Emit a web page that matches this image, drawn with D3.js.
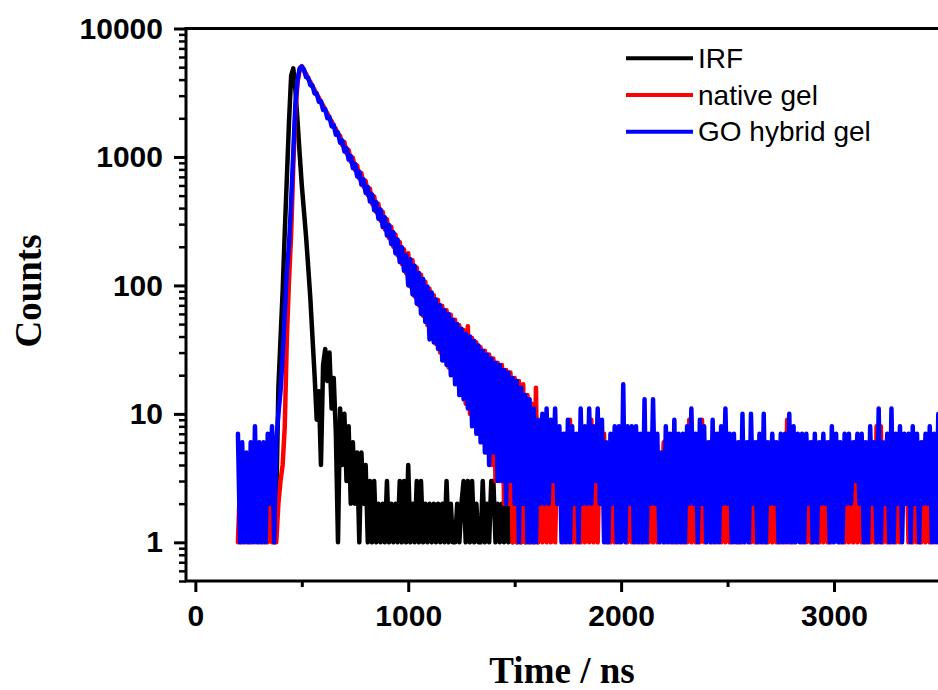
<!DOCTYPE html>
<html>
<head>
<meta charset="utf-8">
<script src="https://cdn.jsdelivr.net/npm/d3@7"></script>
<style>
    body { margin: 0; background: #fff; }
    svg { display: block; }
    .tick text { font-family: "Liberation Sans", Arial, sans-serif; font-weight: bold; font-size: 30px; fill: #000; }
    .axis-title { font-family: "Liberation Serif", "Times New Roman", serif; font-weight: bold; font-size: 37px; fill: #000; }
    .legend text { font-family: "Liberation Sans", Arial, sans-serif; font-size: 28px; fill: #000; }
</style>
</head>
<body>
<svg id="chart" width="938" height="690"></svg>
<script>
// channel width of the decay traces, ns
var step = 10;

// IRF, first channel at 380 ns
var irfStart = 380;
var irfCounts = [
    2,16,38,90,260,700,1900,4300,4900,3300,
    1900,1050,600,380,240,140,80,40,20,9,
    15,4,24,32,18,30,11,19,7,1,
    11,4,10,3,8,2,6,2,5,1,
    5,2,4,1,3,1,3,1,2,1,
    2,1,3,1,2,1,2,1,3,1,
    3,1,4,1,2,1,3,1,3,1,
    2,1,2,1,2,1,2,1,2,1,
    3,1,2,1,1,2,1,2,3,1,
    3,1,3,1,2,1,1,3,1,2,
    1,3,3,1,2,1,2,1,2,1,
    2,1,2,1,2,1,2,1,2,1,
    2,1,2,1,2
];

// native gel, first channel at 200 ns
var nativeStart = 200;
var nativeCounts = [
    1,3,1,2,1,4,1,2,1,3,
    1,2,1,3,1,2,1,1,1,2,
    3,4,8,40,110,250,850,2300,3800,4800,
    5100,4700,4450,4050,3850,3520,3330,3060,2900,2660,
    2520,2300,2190,1990,1900,1730,1650,1500,1460,1240,
    1305,1070,1136,920,987,793,859,682,748,586,
    651,503,567,432,494,371,430,319,375,273,
    327,234,287,200,249,172,218,147,191,125,
    178,98,157,82,138,70,121,58,107,49,
    94,41,84,35,77,30,69,26,64,23,
    59,20,54,17,49,14,45,12,48,10,
    39,9,36,7,33,6,31,5,29,4,
    27,3,25,3,24,2,22,2,21,1,
    19,1,18,1,17,1,14,1,12,1,
    16,1,8,1,9,1,6,1,7,1,
    5,2,6,1,7,1,9,1,6,1,
    5,1,6,1,7,1,9,1,5,1,
    6,2,7,1,5,1,6,1,7,1,
    6,2,5,1,7,1,6,1,5,1,
    6,1,7,1,5,1,6,1,5,2,
    6,1,7,1,5,1,6,1,5,1,
    6,1,9,1,5,1,6,1,9,1,
    5,2,6,1,5,1,7,1,6,1,
    5,1,6,1,5,1,6,1,5,2,
    6,1,5,1,6,1,5,1,6,1,
    5,1,6,1,5,1,6,1,9,1,
    5,1,6,2,5,1,6,1,5,1,
    6,1,5,1,6,1,5,1,6,1,
    5,2,6,1,5,1,6,1,5,1,
    6,1,5,1,6,1,5,1,6,1,
    8,1,8,1,5,1,6,1,5,1,
    6,1,5,2,6,1,5,1,6,1,
    5,1,6,1,5,1,6,1,5,1,
    6,1,5,1,6
];

// GO hybrid gel, first channel at 200 ns
var goStart = 200;
var goCounts = [
    7,1,6,1,5,1,6,1,8,1,
    6,1,6,1,7,2,8,1,6,10,
    15,28,60,130,210,450,1100,2600,4000,4900,
    5050,4800,4190,4150,3620,3610,3120,3130,2690,2720,
    2320,2360,2000,2050,1730,1780,1490,1550,1290,1345,
    1105,1170,955,1020,820,885,705,770,610,670,
    525,585,450,510,385,445,330,390,285,340,
    245,295,210,260,178,228,152,198,130,172,
    100,160,85,142,72,125,60,112,52,98,
    38,88,36,78,32,70,26,64,24,60,
    20,54,17,50,14,46,13,42,11,40,
    8,37,7,34,6,31,5,29,4,27,
    5,25,3,24,3,22,2,21,3,19,
    2,18,1,16,2,14,1,13,1,11,
    1,9,2,10,2,11,2,9,3,11,
    2,8,1,7,1,9,1,8,2,7,
    1,11,2,8,2,11,2,8,3,11,
    2,9,1,6,1,7,2,8,1,8,
    1,17,1,8,2,8,1,8,1,7,
    1,13,1,7,2,13,2,7,1,5,
    1,8,1,7,1,9,1,7,1,7,
    1,8,2,11,2,7,1,9,2,8,
    1,6,1,9,1,7,1,8,2,11,
    2,7,1,7,1,6,1,10,1,6,
    1,10,2,6,1,7,1,10,1,6,
    2,7,2,6,1,7,1,7,1,10,
    1,8,1,7,1,7,1,7,2,6,
    1,7,1,6,2,7,2,6,1,8,
    1,7,1,6,1,7,2,7,2,6,
    3,7,2,7,1,6,1,8,2,6,
    1,11,1,6,2,7,1,11,1,7,
    2,8,1,7,2,7,1,8,2,7,
    1,6,2,7,2,8,1,7,1,10,
    1,7,1,8,1
];

var seriesNames = ["IRF", "native gel", "GO hybrid gel"];
var seriesColors = ["#000000", "#ff0000", "#0000ff"];

var xMajor = [0, 1000, 2000, 3000];
var xMinor = [500, 1500, 2500];
var yMajor = [1, 10, 100, 1000, 10000];

var toPoints = function (start, counts) {
    return counts.map(function (c, i) {
        return { t: start + i * step, v: c };
    });
};

var series = [
    toPoints(irfStart, irfCounts),
    toPoints(nativeStart, nativeCounts),
    toPoints(goStart, goCounts)
];

var plotL = 186, plotR = 950, plotT = 28.5, plotB = 581;

var svg = d3.select("#chart");

var x = d3.scaleLinear().domain([-44, 3545]).range([plotL, plotR]);
var y = d3.scaleLog().domain([0.5, 10000]).range([plotB, plotT]);

var yMinor = [];
[0.1, 1, 10, 100, 1000].forEach(function (d) {
    for (var k = 2; k <= 9; k++) {
        var v = d * k;
        if (v >= 0.5 && v < 10000) yMinor.push(v);
    }
});

svg.append("defs").append("clipPath")
    .attr("id", "plot-clip")
    .append("rect")
    .attr("x", plotL)
    .attr("y", plotT)
    .attr("width", plotR - plotL)
    .attr("height", plotB - plotT)
;

var line = d3.line()
    .x(function (d) { return x(d.t); })
    .y(function (d) { return y(d.v); })
;

var plot = svg.append("g").attr("clip-path", "url(#plot-clip)");

series.forEach(function (s, i) {
    plot.append("path")
        .datum(s)
        .attr("d", line)
        .attr("fill", "none")
        .attr("stroke", seriesColors[i])
        .attr("stroke-width", 4.5)
        .attr("stroke-linejoin", "round")
        .attr("stroke-linecap", "round")
    ;
});

// frame
svg.append("path")
    .attr("d", "M" + plotL + "," + plotB + "V" + plotT + "H" + plotR + "V" + plotB + "Z")
    .attr("fill", "none")
    .attr("stroke", "#000")
    .attr("stroke-width", 3)
;

var styleAxis = function (g) {
    g.select(".domain").remove();
    g.selectAll(".tick line").attr("stroke", "#000").attr("stroke-width", 3);
};

svg.append("g")
    .attr("transform", "translate(0," + plotB + ")")
    .call(d3.axisBottom(x).tickValues(xMajor).tickFormat(d3.format("d")).tickSize(11).tickPadding(13).tickSizeOuter(0))
    .call(styleAxis)
;

svg.append("g")
    .attr("transform", "translate(0," + plotB + ")")
    .call(d3.axisBottom(x).tickValues(xMinor).tickFormat("").tickSize(6).tickSizeOuter(0))
    .call(styleAxis)
;

svg.append("g")
    .attr("transform", "translate(" + plotL + ",0)")
    .call(d3.axisLeft(y).tickValues(yMajor).tickFormat(d3.format("d")).tickSize(12).tickPadding(11).tickSizeOuter(0))
    .call(styleAxis)
;

svg.append("g")
    .attr("transform", "translate(" + plotL + ",0)")
    .call(d3.axisLeft(y).tickValues(yMinor).tickFormat("").tickSize(7).tickSizeOuter(0))
    .call(styleAxis)
    .selectAll(".tick line").attr("stroke-width", 2.5)
;

svg.append("text")
    .attr("class", "axis-title")
    .attr("text-anchor", "middle")
    .attr("transform", "translate(41,291) rotate(-90)")
    .text("Counts")
;

svg.append("text")
    .attr("class", "axis-title")
    .attr("text-anchor", "middle")
    .attr("x", 562)
    .attr("y", 683)
    .text("Time / ns")
;

var legend = svg.append("g").attr("class", "legend");

seriesNames.forEach(function (name, i) {
    var ly = 58.3 + i * 36.7;
    legend.append("line")
        .attr("x1", 626)
        .attr("x2", 693)
        .attr("y1", ly)
        .attr("y2", ly)
        .attr("stroke", seriesColors[i])
        .attr("stroke-width", 4)
    ;
    legend.append("text")
        .attr("x", 698)
        .attr("y", ly + 9.5)
        .text(name)
    ;
});
</script>
</body>
</html>
